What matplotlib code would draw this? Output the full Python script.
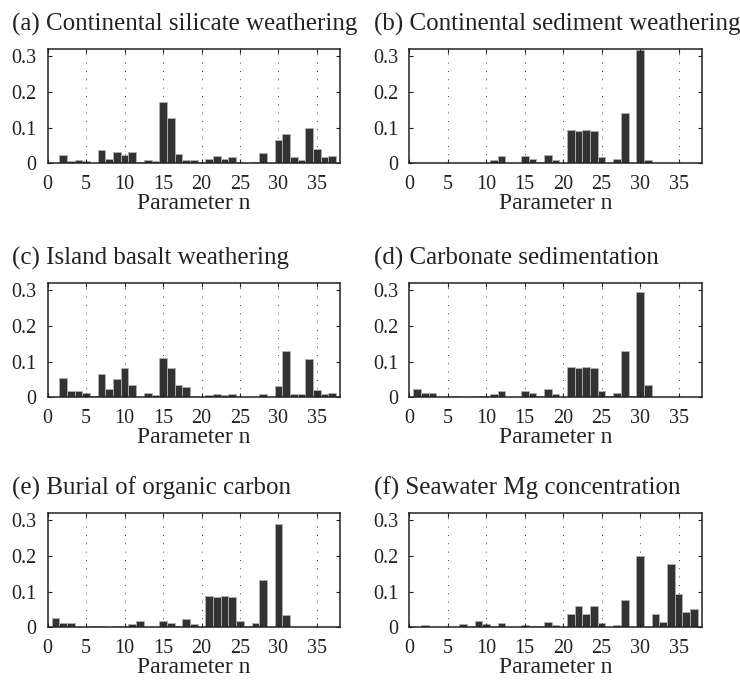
import matplotlib
matplotlib.use('Agg')
import matplotlib.pyplot as plt

plt.rcParams['font.family'] = ['Liberation Serif', 'DejaVu Serif']

n = list(range(1, 38))

silicate = [0.001, 0.023, 0.007, 0.009, 0.007, 0.002, 0.038, 0.013, 0.031, 0.022,
            0.032, 0.005, 0.009, 0.006, 0.171, 0.126, 0.027, 0.009, 0.009, 0.003,
            0.013, 0.020, 0.013, 0.019, 0.004, 0.001, 0.003, 0.028, 0.001, 0.065,
            0.082, 0.017, 0.008, 0.099, 0.041, 0.017, 0.020]
sediment = [0.001, 0.002, 0.001, 0.001, 0.001, 0.001, 0.002, 0.001, 0.002, 0.002,
            0.009, 0.020, 0.001, 0.001, 0.020, 0.013, 0.004, 0.023, 0.009, 0.002,
            0.093, 0.092, 0.093, 0.091, 0.019, 0.002, 0.012, 0.140, 0.002, 0.317,
            0.009, 0.001, 0.001, 0.001, 0.002, 0.001, 0.001]
basalt = [0.001, 0.053, 0.018, 0.017, 0.013, 0.003, 0.066, 0.023, 0.052, 0.083,
          0.035, 0.001, 0.013, 0.007, 0.111, 0.082, 0.035, 0.029, 0.003, 0.001,
          0.007, 0.008, 0.007, 0.008, 0.002, 0.001, 0.001, 0.009, 0.001, 0.032,
          0.130, 0.010, 0.008, 0.108, 0.021, 0.009, 0.012]
carbonate = [0.023, 0.013, 0.012, 0.001, 0.001, 0.004, 0.001, 0.001, 0.003, 0.003,
             0.009, 0.018, 0.001, 0.002, 0.018, 0.012, 0.004, 0.023, 0.009, 0.002,
             0.085, 0.083, 0.085, 0.083, 0.018, 0.003, 0.011, 0.130, 0.003, 0.295,
             0.034, 0.001, 0.001, 0.001, 0.002, 0.001, 0.001]
organic = [0.025, 0.013, 0.012, 0.001, 0.001, 0.003, 0.003, 0.001, 0.003, 0.003,
           0.009, 0.019, 0.001, 0.002, 0.017, 0.011, 0.003, 0.023, 0.009, 0.002,
           0.088, 0.085, 0.088, 0.085, 0.019, 0.003, 0.011, 0.133, 0.002, 0.290,
           0.035, 0.001, 0.001, 0.001, 0.002, 0.001, 0.001]
seawater_mg = [0.001, 0.006, 0.001, 0.002, 0.001, 0.001, 0.009, 0.004, 0.017, 0.008,
               0.004, 0.011, 0.001, 0.001, 0.006, 0.004, 0.004, 0.015, 0.006, 0.002,
               0.037, 0.061, 0.037, 0.061, 0.011, 0.001, 0.006, 0.078, 0.002, 0.201,
               0.001, 0.036, 0.014, 0.179, 0.093, 0.043, 0.050]

titles = ['(a) Continental silicate weathering', '(b) Continental sediment weathering',
          '(c) Island basalt weathering', '(d) Carbonate sedimentation',
          '(e) Burial of organic carbon', '(f) Seawater Mg concentration']
series = [silicate, sediment, basalt, carbonate, organic, seawater_mg]

W, H = 740, 680
fig = plt.figure(figsize=(W / 100, H / 100), dpi=100)

lefts = [47.7, 409.3]
tops = [49.3, 283.3, 513.3]
ax_w, ax_h = 292.3, 114.0

for i, (title, vals) in enumerate(zip(titles, series)):
    row, col = divmod(i, 2)
    l = lefts[col]
    t = tops[row]
    ax = fig.add_axes([l / W, 1 - (t + ax_h) / H, ax_w / W, ax_h / H])
    ax.bar(n, vals, width=1.0, color='#333333', edgecolor='#b0b0b0', linewidth=0.6)
    ax.set_xlim(0, 38)
    ax.set_ylim(0, 0.32)
    ax.set_xticks([0, 5, 10, 15, 20, 25, 30, 35])
    ax.set_yticks([0, 0.1, 0.2, 0.3])
    ax.set_yticklabels(['0', '0.1', '0.2', '0.3'])
    for x in [5, 10, 15, 20, 25, 30, 35]:
        ax.axvline(x, color='black', linewidth=0.6, linestyle=(0, (1, 9)), zorder=0.5)
    ax.tick_params(direction='in', length=3, width=0.8, labelsize=14.5,
                   top=True, right=True, colors='#222222', labelcolor='#222222')
    ax.tick_params(axis='x', pad=8.5)
    ax.tick_params(axis='y', pad=8)
    for s in ax.spines.values():
        s.set_linewidth(1.1)
        s.set_color('#222222')
    ax.set_xlabel('Parameter n', fontsize=17, labelpad=-1, color='#222222')
    ax.text(-35.7 / ax_w, 1 + 25 / ax_h, title, transform=ax.transAxes,
            fontsize=18, ha='left', va='center', color='#222222')

fig.savefig('out.png', dpi=100)
